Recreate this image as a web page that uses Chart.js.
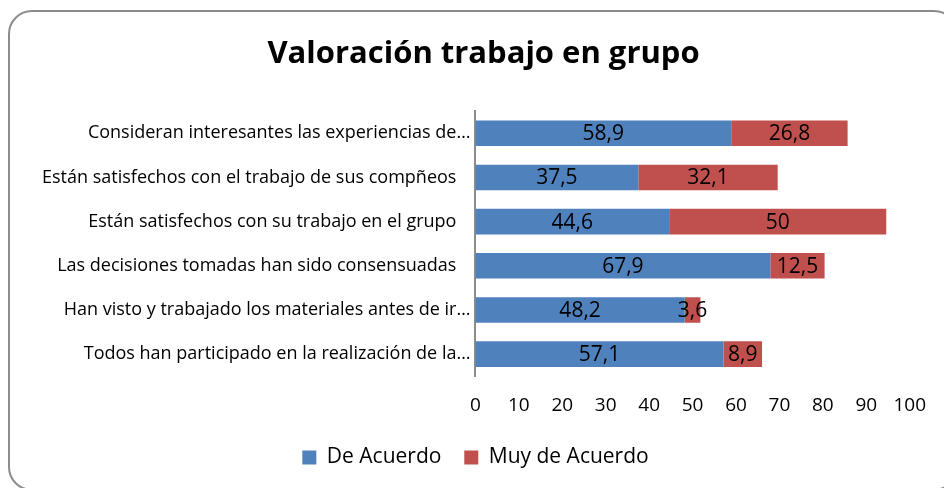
<!DOCTYPE html>
<html>
<head>
<meta charset="utf-8">
<script src="https://cdn.jsdelivr.net/npm/chart.js@4/dist/chart.umd.min.js"></script>
<style>
    html, body { margin: 0; padding: 0; background: #fff; overflow: hidden; }
    #frame {
        position: absolute;
        left: 8px; top: 10px;
        width: 950px; height: 481px;
        border: 2px solid #8c8c8c;
        border-radius: 24px;
        box-sizing: border-box;
    }
    #wrap { position: absolute; left: 0; top: 0; width: 944px; height: 488px; }
</style>
</head>
<body>
<div id="frame"></div>
<div id="wrap"><canvas id="grupoChart"></canvas></div>
<script>
// Chart data
const categories = [
    'Consideran interesantes las experiencias de…',
    'Están satisfechos con el trabajo de sus compñeos',
    'Están satisfechos con su trabajo en el grupo',
    'Las decisiones tomadas han sido consensuadas',
    'Han visto y trabajado los materiales antes de ir…',
    'Todos han participado en la realización de la…'
];
const deAcuerdo = [58.9, 37.5, 44.6, 67.9, 48.2, 57.1];
const muyDeAcuerdo = [26.8, 32.1, 50, 12.5, 3.6, 8.9];
const xTicks = [0, 10, 20, 30, 40, 50, 60, 70, 80, 90, 100];

const FONT = '"Open Sans", Lato, sans-serif';
const NBSP = '\u00a0';

// Value labels centered on each segment
const segmentLabels = {
    id: 'segmentLabels',
    afterDatasetsDraw(chart) {
        const ctx = chart.ctx;
        ctx.save();
        ctx.font = '21px ' + FONT;
        ctx.fillStyle = '#000';
        ctx.textAlign = 'center';
        ctx.textBaseline = 'middle';
        chart.data.datasets.forEach((ds, i) => {
            chart.getDatasetMeta(i).data.forEach((bar, j) => {
                const text = String(ds.data[j]).replace('.', ',');
                ctx.fillText(text, (bar.x + bar.base) / 2, bar.y + 1);
            });
        });
        ctx.restore();
    }
};

const ctx = document.getElementById('grupoChart').getContext('2d');
new Chart(ctx, {
    type: 'bar',
    data: {
        labels: categories,
        datasets: [{
            label: 'De Acuerdo',
            data: deAcuerdo,
            backgroundColor: '#4F81BD',
            categoryPercentage: 0.58,
            barPercentage: 1
        }, {
            label: 'Muy de Acuerdo',
            data: muyDeAcuerdo,
            backgroundColor: '#C0504D',
            categoryPercentage: 0.58,
            barPercentage: 1
        }]
    },
    options: {
        indexAxis: 'y',
        responsive: true,
        maintainAspectRatio: false,
        animation: false,
        layout: { padding: { left: 37, right: 30, top: 0, bottom: 10 } },
        scales: {
            x: {
                stacked: true,
                min: 0,
                max: 100,
                afterBuildTicks: axis => { axis.ticks = xTicks.map(v => ({ value: v })); },
                grid: { display: false, drawTicks: false },
                border: { display: false },
                ticks: { color: '#000', font: { family: FONT, size: 19 }, padding: 18 }
            },
            y: {
                stacked: true,
                grid: { display: false, drawTicks: false },
                border: { display: true, color: '#8c8c8c', width: 2 },
                ticks: {
                    color: '#000',
                    font: { family: FONT, size: 18 },
                    padding: 5,
                    // full labels sit a little left of the truncated ones
                    callback: function(value) {
                        const label = this.getLabelForValue(value);
                        return label.endsWith('…') ? label : label + NBSP + NBSP + NBSP;
                    }
                }
            }
        },
        plugins: {
            title: {
                display: true,
                text: NBSP + NBSP + 'Valoración trabajo en grupo',
                color: '#000',
                font: { family: FONT, size: 31, weight: 'bold' },
                padding: { top: 36, bottom: 38 }
            },
            legend: {
                position: 'bottom',
                labels: {
                    color: '#000',
                    font: { family: FONT, size: 21 },
                    boxWidth: 14,
                    boxHeight: 14,
                    padding: 12,
                    generateLabels: chart => Chart.defaults.plugins.legend.labels.generateLabels(chart)
                        .map((item, i) => i === 0 ? { ...item, text: item.text + NBSP + NBSP } : item)
                }
            },
            tooltip: { enabled: false }
        }
    },
    plugins: [segmentLabels]
});
</script>
</body>
</html>
